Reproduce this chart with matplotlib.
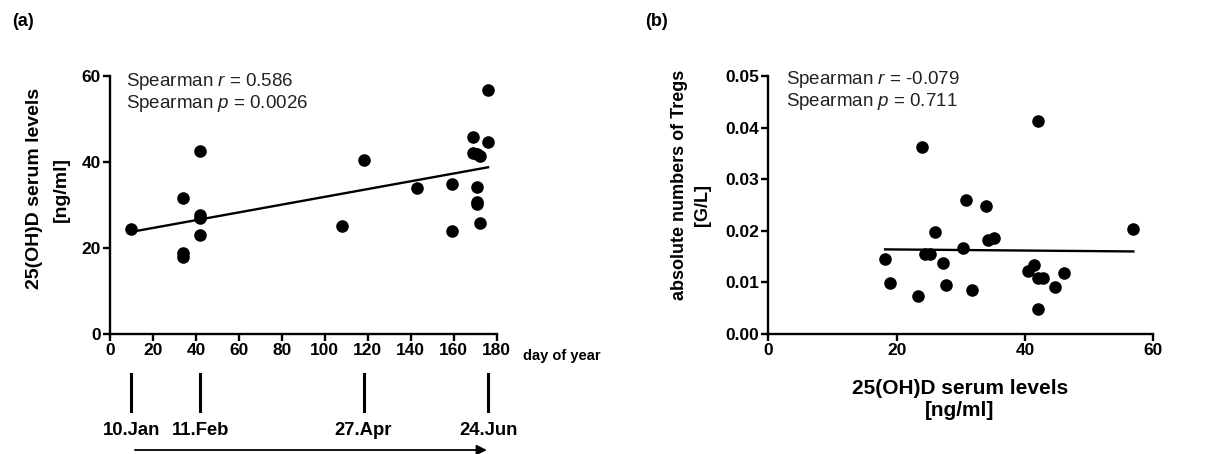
import matplotlib
matplotlib.use("Agg")
import matplotlib.pyplot as plt
import matplotlib.transforms as mtransforms

plt.rcParams['font.family'] = ['Liberation Sans', 'DejaVu Sans']
plt.rcParams['mathtext.fontset'] = 'custom'
plt.rcParams['mathtext.rm'] = 'Liberation Sans'
plt.rcParams['mathtext.it'] = 'Liberation Sans:italic'

# ---- Panel (a): day of year vs 25(OH)D ----
day_of_year = [10, 34, 34, 34, 42, 42, 42, 42, 108, 118, 143, 159, 159,
               169, 169, 171, 172, 171, 171, 171, 172, 176, 176]
vitd_a = [24.4, 31.7, 18.8, 18.0, 42.6, 27.7, 27.0, 23.1, 25.2, 40.5, 33.9, 34.9, 24.0,
          45.9, 42.0, 41.8, 41.4, 34.1, 30.8, 30.2, 25.9, 56.7, 44.6]
fit_a_x = [10, 176]
fit_a_y = [23.8, 38.8]
date_days = [10, 42, 118, 176]
date_labels = ['10.Jan', '11.Feb', '27.Apr', '24.Jun']
xticks_a = [0, 20, 40, 60, 80, 100, 120, 140, 160, 180]
yticks_a = [0, 20, 40, 60]
stats_a = ['Spearman $r$ = 0.586', 'Spearman $p$ = 0.0026']
ylabel_a = ['25(OH)D serum levels', '[ng/ml]']

# ---- Panel (b): 25(OH)D vs Tregs ----
vitd_b = [18.2, 18.9, 23.3, 24.0, 24.4, 25.2, 26.0, 27.2, 27.7, 30.4, 30.8, 31.7,
          33.9, 34.3, 35.1, 40.5, 41.4, 42.1, 42.1, 42.8, 42.1, 44.7, 46.1, 56.9]
tregs = [0.0145, 0.0098, 0.0074, 0.0363, 0.0156, 0.0156, 0.0197, 0.0137, 0.0095,
         0.0167, 0.0260, 0.0085, 0.0249, 0.0183, 0.0186, 0.0123, 0.0134, 0.0413,
         0.0108, 0.0109, 0.0048, 0.0092, 0.0118, 0.0203]
fit_b_x = [18.2, 56.9]
fit_b_y = [0.0164, 0.0160]
xticks_b = [0, 20, 40, 60]
yticks_b = [0.00, 0.01, 0.02, 0.03, 0.04, 0.05]
stats_b = ['Spearman $r$ = -0.079', 'Spearman $p$ = 0.711']
xlabel_b = ['25(OH)D serum levels', '[ng/ml]']
ylabel_b = ['absolute numbers of Tregs', '[G/L]']

W, H = 1205, 454
fig = plt.figure(figsize=(W / 100, H / 100), dpi=100)
fig.patch.set_facecolor('white')

tick_fs = 12.5
ann_fs = 13.5


def fpos(x, y):
    return x / W, 1 - y / H


def style(ax):
    for s in ['top', 'right']:
        ax.spines[s].set_visible(False)
    for s in ['left', 'bottom']:
        ax.spines[s].set_linewidth(1.7)
        ax.spines[s].set_color('black')
    ax.tick_params(direction='out', length=5, width=1.7, pad=1.5,
                   labelsize=tick_fs, colors='black')
    for lab in ax.get_xticklabels() + ax.get_yticklabels():
        lab.set_fontweight('bold')


# ---------------- panel (a) ----------------
ax1 = fig.add_axes([110 / W, 1 - 334.3 / H, 386.7 / W, 258.3 / H])
ax1.scatter(day_of_year, vitd_a, s=82, color='black', zorder=3, clip_on=False,
            linewidths=0)
ax1.plot(fit_a_x, fit_a_y, color='black', lw=1.7)
ax1.set_xlim(0, 180)
ax1.set_ylim(0, 60)
ax1.set_xticks(xticks_a)
ax1.set_yticks(yticks_a)
style(ax1)
ax1.text(*fpos(126, 81.7), stats_a[0], transform=fig.transFigure, fontsize=ann_fs,
         va='center', ha='left', color='#222222')
ax1.text(*fpos(126, 103.3), stats_a[1], transform=fig.transFigure, fontsize=ann_fs,
         va='center', ha='left', color='#222222')
fig.text(*fpos(523, 355.7), 'day of year', fontsize=10.5,
         fontweight='bold', va='center', ha='left')

blend = mtransforms.blended_transform_factory(ax1.transData, ax1.transAxes)
for d, lab in zip(date_days, date_labels):
    ax1.plot([d, d], [-0.154, -0.296], transform=blend, color='black', lw=2.2,
             clip_on=False)
    ax1.text(d, -0.371, lab, transform=blend, fontsize=13.3, fontweight='bold',
             ha='center', va='center')
ax1.annotate('', xy=(175.4, -0.448), xycoords=blend, xytext=(11.6, -0.448),
             textcoords=blend,
             arrowprops=dict(arrowstyle='-|>', color='black', lw=1.3,
                             mutation_scale=15, shrinkA=0, shrinkB=0))

fig.text(*fpos(35, 188), ylabel_a[0], rotation=90, ha='center', va='center',
         fontsize=14, fontweight='bold')
fig.text(*fpos(61, 190), ylabel_a[1], rotation=90, ha='center', va='center',
         fontsize=14, fontweight='bold')

# ---------------- panel (b) ----------------
ax2 = fig.add_axes([768.3 / W, 1 - 334 / H, 385 / W, 258 / H])
ax2.scatter(vitd_b, tregs, s=82, color='black', zorder=3, clip_on=False,
            linewidths=0)
ax2.plot(fit_b_x, fit_b_y, color='black', lw=1.7)
ax2.set_xlim(0, 60)
ax2.set_ylim(0, 0.05)
ax2.set_xticks(xticks_b)
ax2.set_yticks(yticks_b)
ax2.set_yticklabels([f'{v:.2f}' for v in yticks_b])
style(ax2)
ax2.text(*fpos(786, 80), stats_b[0], transform=fig.transFigure, fontsize=ann_fs,
         va='center', ha='left', color='#222222')
ax2.text(*fpos(786, 101.7), stats_b[1], transform=fig.transFigure, fontsize=ann_fs,
         va='center', ha='left', color='#222222')

fig.text(*fpos(960, 388), xlabel_b[0], ha='center', va='center',
         fontsize=15, fontweight='bold')
fig.text(*fpos(960, 410), xlabel_b[1], ha='center', va='center',
         fontsize=15, fontweight='bold')
fig.text(*fpos(679, 185), ylabel_b[0], rotation=90, ha='center', va='center',
         fontsize=13, fontweight='bold')
fig.text(*fpos(702.5, 205), ylabel_b[1], rotation=90, ha='center', va='center',
         fontsize=13, fontweight='bold')

fig.text(*fpos(12, 21), '(a)', fontsize=13, fontweight='bold', va='center', ha='left')
fig.text(*fpos(645, 21), '(b)', fontsize=13, fontweight='bold', va='center', ha='left')

fig.savefig('out.png', dpi=100, facecolor='white')
